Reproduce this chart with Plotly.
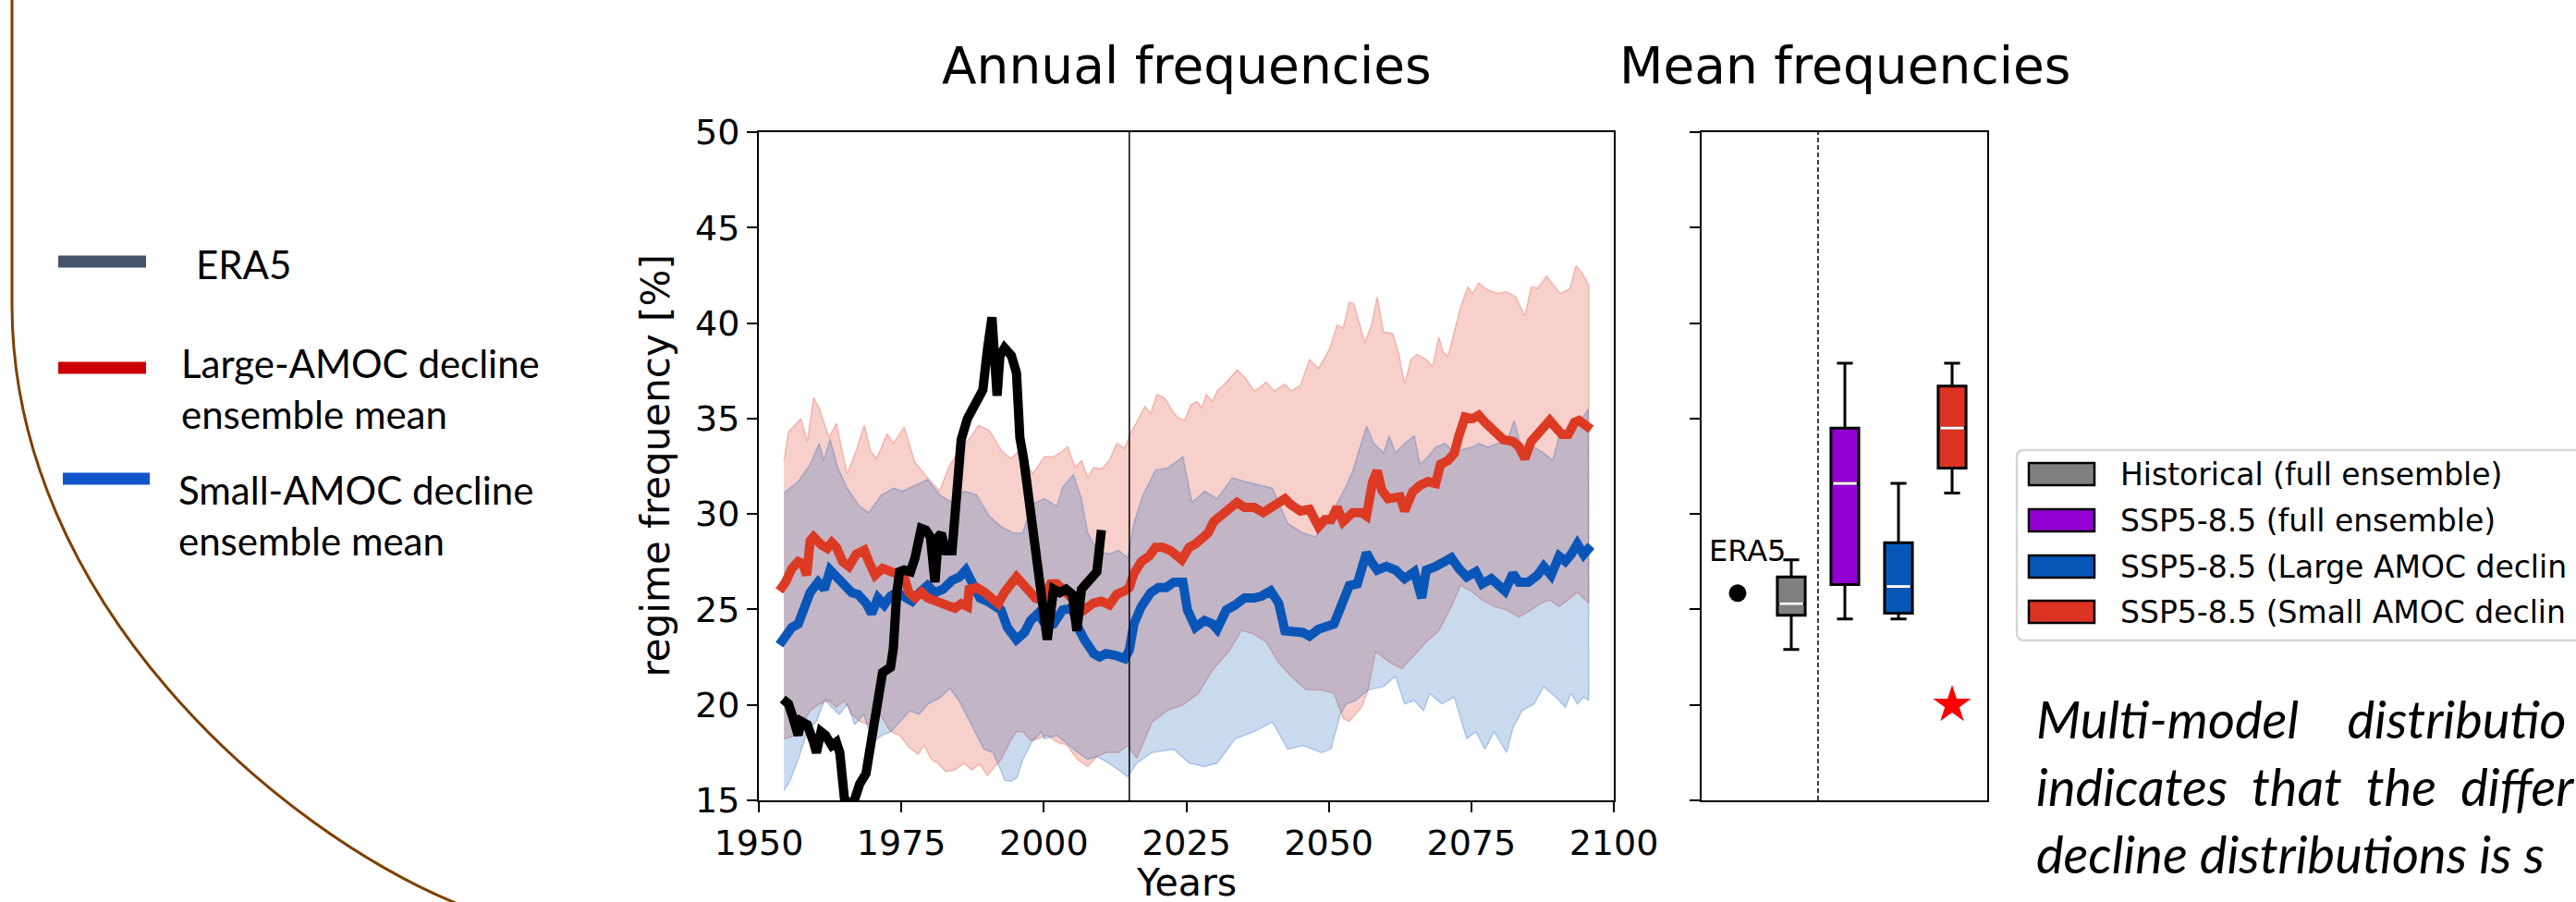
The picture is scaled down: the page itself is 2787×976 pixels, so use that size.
import plotly.graph_objects as go

W, H = 2787, 976

# ---------------- DATA ----------------
split_year = 2015

red_mean_years = [1953.6, 1954.7, 1955.8, 1956.9, 1957.7, 1958.4, 1959.0, 1959.6, 1960.9, 1962.0, 1962.8, 1963.6,
                  1964.7, 1965.8, 1967.1, 1968.5, 1969.3, 1970.4, 1971.7, 1972.8, 1973.9, 1975.2, 1976.3, 1977.4,
                  1978.5, 1979.6, 1980.6, 1981.7, 1983.1, 1984.4, 1985.5, 1986.6, 1986.9, 1988.2, 1989.6, 1990.9,
                  1992.0, 1993.1, 1994.2, 1995.2, 1996.3, 1997.4, 1998.5, 1999.6, 2001.2, 2002.3, 2003.9, 2005.5,
                  2007.1, 2008.7, 2010.1, 2011.5, 2012.8, 2014.2, 2015.0, 2015.8, 2017.1, 2018.5, 2019.6, 2020.9,
                  2022.3, 2024.2, 2025.5, 2026.6, 2027.7, 2028.8, 2029.8, 2031.2, 2032.5, 2033.9, 2035.2, 2036.9,
                  2038.5, 2040.1, 2042.3, 2043.3, 2045.0, 2046.6, 2048.2, 2049.3, 2050.4, 2051.45, 2052.5, 2054.2,
                  2055.8, 2056.6, 2057.7, 2058.5, 2059.3, 2060.4, 2061.7, 2062.5, 2063.3, 2064.7, 2066.0, 2067.4,
                  2068.75, 2069.6, 2070.9, 2072.0, 2072.8, 2073.9, 2075.2, 2076.3, 2077.4, 2079.0, 2080.6, 2082.3,
                  2083.35, 2084.4, 2085.5, 2086.6, 2087.7, 2088.75, 2089.8, 2090.9, 2092.0, 2093.1, 2093.9, 2095.0,
                  2096.0]
red_mean_vals = [25.97, 26.43, 27.15, 27.5, 27.4, 26.8, 28.6, 28.8, 28.4, 28.2, 28.5, 28.25,
                 27.5, 27.25, 27.9, 28.1, 27.5, 26.8, 27.15, 27.06, 26.9, 26.97, 25.9, 25.6,
                 25.9, 25.6, 25.5, 25.4, 25.3, 25.06, 25.3, 25.15, 26.06, 26.15, 25.9, 25.6,
                 25.3, 25.9, 26.43, 26.7, 26.34, 25.9, 25.6, 25.5, 26.34, 26.34, 25.9, 25.33,
                 24.97, 25.33, 25.43, 25.24, 25.79, 25.97, 26.15, 26.88, 27.5, 27.8, 28.25, 28.25,
                 28.07, 27.6, 28.25, 28.43, 28.8, 29.0, 29.6, 29.9, 30.25, 30.6, 30.35, 30.35,
                 30.07, 30.35, 30.8, 30.5, 30.16, 30.25, 29.34, 29.7, 29.7, 30.35, 29.6, 30.07,
                 30.07, 29.9, 31.7, 32.26, 31.25, 30.8, 30.8, 30.9, 30.16, 31.16, 31.5, 31.7,
                 31.6, 32.6, 32.8, 33.17, 34.08, 35.08, 34.99, 35.17, 34.8, 34.26, 33.9, 33.8,
                 33.53, 32.9, 33.8, 34.17, 34.6, 34.9, 34.53, 34.17, 34.17, 34.8, 34.9, 34.6,
                 34.44]

blue_mean_years = [1953.6, 1954.7, 1955.8, 1956.9, 1958.0, 1959.0, 1960.4, 1961.5, 1962.5, 1963.6, 1965.0, 1966.3,
                   1967.4, 1968.8, 1969.8, 1970.9, 1972.0, 1973.1, 1974.2, 1975.5, 1976.9, 1978.2, 1979.6, 1980.9,
                   1982.3, 1983.9, 1985.2, 1986.3, 1987.4, 1988.8, 1990.1, 1991.5, 1992.5, 1993.6, 1995.2, 1996.6,
                   1997.7, 1999.0, 2000.4, 2001.7, 2003.3, 2005.0, 2006.0, 2007.1, 2008.75, 2009.8, 2010.9, 2012.5,
                   2014.2, 2015.0, 2015.8, 2017.1, 2018.75, 2020.1, 2021.5, 2022.8, 2024.4, 2025.2, 2026.6, 2028.2,
                   2029.6, 2030.4, 2032.0, 2033.6, 2035.2, 2036.9, 2038.2, 2039.8, 2041.2, 2042.3, 2043.9, 2045.5,
                   2046.6, 2048.2, 2050.9, 2052.3, 2053.6, 2055.0, 2056.6, 2057.4, 2058.5, 2060.1, 2061.7, 2063.3,
                   2065.0, 2066.3, 2067.1, 2068.75, 2070.1, 2071.5, 2072.8, 2074.2, 2075.8, 2076.9, 2078.5, 2079.8,
                   2080.9, 2082.3, 2083.35, 2085.0, 2086.6, 2087.7, 2089.0, 2090.4, 2091.5, 2092.5, 2093.6, 2094.7,
                   2096.0]
blue_mean_vals = [23.15, 23.6, 24.06, 24.24, 24.97, 25.88, 26.43, 26.06, 27.06, 26.7, 26.25, 25.88,
                  25.79, 25.33, 24.79, 25.6, 25.24, 25.7, 25.88, 25.6, 25.43, 25.88, 26.25, 25.88,
                  26.06, 26.52, 26.7, 27.06, 26.34, 25.6, 25.43, 25.15, 24.97, 24.06, 23.42, 23.79,
                  24.42, 24.79, 24.15, 24.24, 24.97, 25.06, 24.06, 23.42, 22.69, 22.51, 22.69, 22.6,
                  22.42, 22.87, 24.24, 25.15, 25.88, 26.15, 26.15, 26.43, 26.43, 24.97, 24.06, 24.42,
                  24.24, 23.97, 24.97, 25.24, 25.6, 25.6, 25.7, 25.97, 25.33, 23.88, 23.79, 23.79,
                  23.6, 23.97, 24.24, 25.33, 26.25, 26.34, 27.97, 27.52, 27.06, 27.25, 27.06, 26.61,
                  26.97, 25.6, 27.06, 27.25, 27.52, 27.7, 27.15, 26.7, 26.97, 26.34, 26.61, 26.34,
                  25.97, 26.88, 26.43, 26.43, 26.79, 27.25, 26.79, 27.79, 27.52, 27.88, 28.43, 27.88,
                  28.34]

era5_years = [1954.2, 1955.2, 1956.0, 1956.9, 1957.4, 1958.5, 1959.6, 1960.1, 1960.9, 1961.7, 1962.8, 1963.6,
              1964.2, 1965.0, 1965.8, 1966.6, 1967.7, 1968.8, 1969.8, 1970.65, 1971.7, 1973.1, 1973.6, 1974.2,
              1974.7, 1975.5, 1976.6, 1977.4, 1978.5, 1979.3, 1980.1, 1980.9, 1981.5, 1982.0, 1982.8, 1983.9,
              1984.7, 1985.5, 1986.6, 1988.0, 1989.3, 1990.1, 1990.9, 1991.8, 1992.3, 1993.1, 1994.3, 1995.2,
              1995.8, 1996.5, 1997.4, 1998.2, 1999.0, 1999.8, 2000.6, 2001.7, 2002.8, 2003.9, 2005.0, 2005.8,
              2006.6, 2007.7, 2008.75, 2009.3, 2010.1]
era5_vals = [20.3, 20.05, 19.32, 18.41, 19.14, 18.96, 18.05, 17.5, 18.6, 18.41, 17.87, 18.05,
             17.5, 15.13, 14.77, 14.86, 15.86, 16.4, 18.23, 19.69, 21.69, 21.97, 22.97, 25.88,
             26.97, 27.06, 26.97, 27.7, 29.25, 29.16, 28.8, 26.43, 28.8, 28.98, 28.07, 28.07,
             30.62, 33.9, 35.0, 35.7, 36.5, 38.6, 40.3, 36.2, 38.3, 38.7, 38.3, 37.4,
             34.0, 32.8, 30.62, 29.16, 26.97, 24.79, 23.42, 26.06, 25.88, 26.06, 25.79, 23.88,
             26.06, 26.43, 26.79, 26.97, 29.16]

red_upper_years = [1954.4, 1955.2, 1957.4, 1958.5, 1959.6, 1960.65, 1962.3, 1963.6, 1965.5, 1967.1, 1968.5, 1969.6,
                   1970.65, 1972.5, 1973.6, 1975.5, 1977.4, 1979.6, 1981.7, 1983.4, 1985.0, 1987.1, 1988.5, 1990.4,
                   1992.5, 1994.2, 1995.8, 1998.0, 2000.1, 2001.7, 2003.1, 2004.2, 2005.5, 2006.6, 2007.7, 2008.75,
                   2010.1, 2011.5, 2012.8, 2014.2, 2015.2, 2016.3, 2017.7, 2018.75, 2019.8, 2021.2, 2022.3, 2023.35,
                   2024.7, 2025.8, 2026.9, 2027.7, 2028.5, 2029.6, 2030.4, 2032.0, 2033.9, 2035.2, 2036.9, 2037.9,
                   2039.0, 2040.4, 2042.3, 2043.35, 2045.0, 2046.6, 2048.2, 2050.1, 2051.45, 2052.5, 2053.6, 2054.4,
                   2056.3, 2057.4, 2058.5, 2059.6, 2061.2, 2062.25, 2063.3, 2064.4, 2065.5, 2067.1, 2068.2, 2069.3,
                   2070.1, 2070.9, 2072.0, 2073.1, 2074.4, 2075.2, 2076.3, 2077.9, 2079.6, 2081.2, 2082.8, 2084.4,
                   2085.5, 2086.6, 2088.2, 2089.6, 2090.6, 2092.3, 2093.35, 2094.4, 2095.6]
red_upper_vals = [32.8, 34.3, 35.0, 33.8, 36.1, 35.5, 34.0, 34.75, 32.1, 33.35, 34.65, 33.3,
                  32.9, 34.2, 33.7, 34.55, 32.7, 31.9, 31.2, 32.5, 33.3, 34.0, 34.65, 34.4,
                  33.35, 32.9, 33.35, 32.1, 33.0, 33.0, 33.26, 33.53, 32.44, 32.8, 31.9, 32.44,
                  32.35, 32.8, 33.7, 33.44, 34.26, 34.81, 35.63, 35.26, 36.26, 36.08, 35.54, 35.08,
                  34.9, 35.72, 35.9, 35.54, 36.26, 35.9, 36.45, 36.9, 37.54, 37.18, 36.45, 36.63,
                  36.9, 36.45, 36.81, 36.45, 36.72, 38.09, 37.63, 38.63, 39.91, 39.73, 41.1, 41.0,
                  39.0, 39.82, 41.37, 39.54, 39.45, 38.45, 36.81, 38.09, 38.36, 38.09, 37.72, 39.27,
                  38.45, 38.27, 39.54, 40.82, 41.91, 41.55, 42.1, 41.73, 41.55, 41.64, 41.37, 40.36,
                  41.91, 41.82, 42.46, 41.91, 41.55, 41.82, 43.0, 42.64, 42.0]

red_lower_years = [1954.4, 1955.8, 1957.4, 1959.0, 1960.65, 1962.3, 1963.6, 1965.0, 1966.3, 1967.7, 1969.3, 1970.9,
                   1972.0, 1973.1, 1974.7, 1976.3, 1977.95, 1979.0, 1980.1, 1981.5, 1982.8, 1984.4, 1986.0, 1987.4,
                   1988.75, 1990.1, 1991.2, 1992.5, 1994.2, 1995.2, 1996.3, 1997.7, 1999.0, 2000.6, 2002.3, 2004.0,
                   2005.9, 2007.7, 2009.3, 2011.0, 2013.1, 2014.7, 2016.3, 2019.0, 2021.7, 2024.4, 2027.1, 2029.8,
                   2032.5, 2034.7, 2036.9, 2039.0, 2041.2, 2043.35, 2046.0, 2048.75, 2050.9, 2052.5, 2053.6, 2055.8,
                   2056.9, 2058.2, 2060.6, 2062.8, 2065.0, 2067.1, 2069.3, 2071.5, 2073.1, 2074.7, 2076.9, 2079.0,
                   2081.2, 2083.35, 2085.5, 2087.1, 2088.75, 2090.4, 2092.0, 2093.6, 2095.6]
red_lower_vals = [18.23, 18.32, 18.87, 19.69, 20.05, 20.23, 19.87, 20.23, 19.5, 19.14, 18.96, 19.69,
                  19.14, 18.6, 18.41, 17.8, 17.4, 17.9, 17.2, 16.9, 16.5, 16.6, 16.95, 16.59,
                  16.9, 16.3, 16.7, 17.14, 18.14, 18.6, 18.6, 18.14, 18.23, 18.41, 18.05, 17.9,
                  17.14, 16.77, 17.3, 17.5, 17.5, 17.87, 17.2, 19.1, 19.7, 20.0, 20.6, 21.9,
                  22.8, 23.9, 23.7, 23.3, 22.2, 21.5, 20.8, 20.78, 20.6, 19.3, 19.14, 19.9,
                  20.78, 22.8, 22.24, 21.9, 22.6, 23.3, 23.88, 25.15, 26.25, 26.0, 25.5, 25.15,
                  24.97, 24.6, 24.97, 25.3, 25.5, 25.15, 25.5, 25.9, 25.33]

blue_upper_years = [1954.4, 1956.9, 1959.0, 1960.6, 1961.4, 1962.5, 1963.9, 1965.5, 1967.7, 1969.3, 1971.5, 1973.6,
                    1975.2, 1977.4, 1979.6, 1981.7, 1983.9, 1986.0, 1988.2, 1990.4, 1992.5, 1994.7, 1996.3, 1997.9,
                    2000.1, 2002.3, 2003.3, 2005.2, 2006.6, 2007.7, 2009.5, 2011.5, 2013.1, 2014.7, 2015.8, 2017.4,
                    2019.6, 2021.7, 2024.4, 2026.0, 2028.2, 2030.4, 2033.1, 2035.2, 2037.9, 2040.1, 2042.8, 2045.5,
                    2047.7, 2050.9, 2053.1, 2054.2, 2056.6, 2057.9, 2059.6, 2060.6, 2061.7, 2063.3, 2065.0, 2066.0,
                    2067.4, 2068.75, 2070.4, 2072.0, 2073.6, 2075.2, 2076.3, 2077.9, 2079.6, 2081.2, 2082.5, 2083.9,
                    2086.0, 2087.7, 2089.3, 2090.4, 2092.0, 2093.6, 2095.5]
blue_upper_vals = [31.1, 31.7, 32.6, 33.7, 32.8, 33.9, 32.4, 31.35, 30.4, 30.07, 31.0, 31.35,
                   31.2, 31.5, 31.8, 31.0, 30.6, 31.2, 31.0, 29.9, 29.34, 29.0, 29.0, 30.5,
                   30.8, 30.4, 31.4, 32.07, 30.8, 29.0, 28.07, 27.9, 28.1, 27.7, 29.5, 31.0,
                   32.3, 32.4, 33.0, 30.6, 31.2, 30.8, 31.9, 31.7, 31.5, 31.35, 29.5, 29.0,
                   28.8, 30.25, 31.5, 32.26, 34.6, 33.7, 33.2, 34.08, 33.2, 33.7, 34.08, 32.6,
                   33.0, 33.5, 33.7, 33.2, 33.4, 33.5, 33.7, 33.5, 33.7, 33.7, 34.9, 33.35,
                   33.5, 33.2, 32.8, 34.08, 34.26, 34.6, 35.5]

blue_lower_years = [1954.4, 1955.5, 1956.9, 1958.5, 1960.1, 1961.6, 1962.8, 1964.1, 1965.6, 1966.8, 1968.4, 1970.0,
                    1971.6, 1973.2, 1974.9, 1976.5, 1978.1, 1979.7, 1981.9, 1983.5, 1985.1, 1987.3, 1989.5, 1991.1,
                    1992.2, 1993.2, 1994.3, 1995.3, 1996.3, 1997.9, 1999.6, 2000.1, 2002.3, 2004.4, 2006.0, 2007.7,
                    2009.3, 2011.4, 2013.1, 2014.7, 2016.3, 2019.0, 2022.8, 2025.5, 2028.2, 2030.4, 2033.6, 2036.9,
                    2040.1, 2042.8, 2045.5, 2048.75, 2050.4, 2052.0, 2053.1, 2054.7, 2056.9, 2059.6, 2061.7, 2063.3,
                    2065.0, 2066.6, 2067.7, 2069.8, 2072.0, 2074.2, 2075.8, 2077.4, 2079.0, 2081.2, 2082.3, 2083.9,
                    2086.0, 2087.7, 2089.8, 2091.5, 2092.5, 2093.6, 2094.7, 2095.6]
blue_lower_vals = [15.5, 16.04, 17.14, 18.6, 19.14, 20.3, 19.87, 19.5, 20.05, 18.96, 19.5, 18.05,
                   18.41, 18.6, 19.14, 19.69, 19.5, 20.05, 20.4, 20.87, 20.23, 18.96, 17.68, 17.5,
                   16.77, 16.04, 16.0, 16.2, 17.14, 18.05, 18.6, 18.23, 18.4, 17.87, 17.5, 17.14,
                   17.3, 16.95, 16.6, 16.23, 16.95, 17.5, 17.68, 16.95, 16.77, 16.95, 18.23, 18.6,
                   19.1, 17.68, 17.87, 17.5, 17.7, 19.5, 20.05, 20.23, 20.78, 20.96, 21.5, 20.05,
                   20.23, 19.69, 20.6, 20.05, 20.41, 18.23, 18.6, 17.68, 18.6, 17.5, 18.78, 19.69,
                   20.05, 20.96, 20.41, 19.87, 20.6, 20.05, 20.41, 20.23]

# box panel (mean frequencies)
box_names = ["Historical (full ensemble)", "SSP5-8.5 (full ensemble)",
             "SSP5-8.5 (Large AMOC decline)", "SSP5-8.5 (Small AMOC decline)"]
# legend labels as far as they are visible before the right edge of the picture
legend_labels = ["Historical (full ensemble)", "SSP5-8.5 (full ensemble)",
                 "SSP5-8.5 (Large AMOC declin", "SSP5-8.5 (Small AMOC declin"]
box_positions = [1, 2, 3, 4]
box_colors = ["#808080", "#9400d3", "#0656b8", "#dd3322"]
box_lowerfence = [22.9, 24.5, 24.5, 31.1]
box_q1 = [24.7, 26.3, 24.8, 32.4]
box_median = [25.3, 31.6, 26.2, 34.5]
box_q3 = [26.7, 34.5, 28.5, 36.7]
box_upperfence = [27.6, 37.9, 31.6, 37.9]
era5_position = 0
era5_mean = 25.85
star_position = 4
star_value = 20.0

x_ticks = [1950, 1975, 2000, 2025, 2050, 2075, 2100]
y_ticks = [15, 20, 25, 30, 35, 40, 45, 50]

left_legend_labels = ["ERA5", "Large-AMOC decline<br>ensemble mean", "Small-AMOC decline<br>ensemble mean"]
left_legend_colors = ["#44546a", "#cc0000", "#1155cc"]
note_lines = ["Multi-model\u00a0\u00a0\u00a0\u00a0distributio",
              "indicates\u00a0\u00a0that\u00a0\u00a0the\u00a0\u00a0differ",
              "decline distributions is s"]

# ---------------- HELPERS ----------------
def px(x):
    return x / W


def py(y):
    return 1 - y / H


RED_LINE = "#dd3a24"
BLUE_LINE = "#0a56b8"
DV = "DejaVu Sans"

fig = go.Figure()

# bands (red first, blue on top)
fig.add_trace(go.Scatter(
    x=red_upper_years + red_lower_years[::-1], y=red_upper_vals + red_lower_vals[::-1],
    fill="toself", fillcolor="rgba(221,58,36,0.24)", line=dict(color="rgba(221,58,36,0.28)", width=1.5),
    mode="lines", hoverinfo="skip", showlegend=False, xaxis="x", yaxis="y"))
fig.add_trace(go.Scatter(
    x=blue_upper_years + blue_lower_years[::-1], y=blue_upper_vals + blue_lower_vals[::-1],
    fill="toself", fillcolor="rgba(10,86,184,0.22)", line=dict(color="rgba(10,86,184,0.26)", width=1.5),
    mode="lines", hoverinfo="skip", showlegend=False, xaxis="x", yaxis="y"))

fig.add_trace(go.Scatter(x=blue_mean_years, y=blue_mean_vals, mode="lines",
                         line=dict(color=BLUE_LINE, width=10), showlegend=False))
fig.add_trace(go.Scatter(x=red_mean_years, y=red_mean_vals, mode="lines",
                         line=dict(color=RED_LINE, width=10), showlegend=False))
fig.add_trace(go.Scatter(x=era5_years, y=era5_vals, mode="lines",
                         line=dict(color="black", width=10), showlegend=False))

# box plots
box_w = 0.52
for i in range(len(box_names)):
    fig.add_trace(go.Box(
        x=[box_positions[i]], q1=[box_q1[i]], median=[box_median[i]], q3=[box_q3[i]],
        lowerfence=[box_lowerfence[i]], upperfence=[box_upperfence[i]],
        width=box_w, whiskerwidth=0.57, fillcolor=box_colors[i],
        line=dict(color="black", width=3), boxpoints=False, name=box_names[i],
        showlegend=False, xaxis="x2", yaxis="y2", hoverinfo="skip"))
    fig.add_trace(go.Scatter(
        x=[box_positions[i] - box_w / 2 + 0.04, box_positions[i] + box_w / 2 - 0.04],
        y=[box_median[i], box_median[i]], mode="lines",
        line=dict(color="white", width=3), showlegend=False, xaxis="x2", yaxis="y2", hoverinfo="skip"))

fig.add_trace(go.Scatter(x=[era5_position], y=[era5_mean], mode="markers",
                         marker=dict(color="black", size=19), showlegend=False, xaxis="x2", yaxis="y2"))
fig.add_trace(go.Scatter(x=[star_position], y=[star_value], mode="markers",
                         marker=dict(color="red", size=31, symbol="star", line=dict(width=0)),
                         showlegend=False, xaxis="x2", yaxis="y2"))

axis_common = dict(showgrid=False, zeroline=False, linecolor="black", linewidth=2, mirror=True,
                   ticks="outside", ticklen=11, tickwidth=2, tickcolor="black", automargin=False,
                   tickfont=dict(family=DV, size=38, color="black"))

fig.update_layout(
    template="none",
    width=W, height=H, autosize=False,
    margin=dict(l=0, r=0, t=0, b=0, pad=0, autoexpand=False),
    showlegend=False,
    paper_bgcolor="white", plot_bgcolor="white",
    xaxis=dict(domain=[px(821), px(1746)], range=[1950, 2100], tickvals=x_ticks, anchor="y", **axis_common),
    yaxis=dict(domain=[py(866), py(143)], range=[15, 50], tickvals=y_ticks, anchor="x", **axis_common),
    xaxis2=dict(domain=[px(1841), px(2150)], range=[-0.672, 4.655], showgrid=False, zeroline=False,
                linecolor="black", linewidth=2, mirror=True, showticklabels=False, ticks="", anchor="y2",
                automargin=False),
    yaxis2=dict(domain=[py(866), py(143)], range=[15, 50], tickvals=y_ticks, showticklabels=False,
                anchor="x2", **{k: v for k, v in axis_common.items() if k != "tickfont"}),
)

shapes = []
# 2015 split line
shapes.append(dict(type="line", xref="x", yref="y domain", x0=split_year, x1=split_year, y0=0, y1=1,
                   line=dict(color="black", width=1.5)))
# dashed divider in box panel
div_x = (box_positions[0] + box_positions[1]) / 2
shapes.append(dict(type="line", xref="x2", yref="y2 domain", x0=div_x, x1=div_x, y0=0, y1=1,
                   line=dict(color="black", width=1.5, dash="5px,3px")))

# brown decorative curve
path = "M {:.5f},{:.5f} L {:.5f},{:.5f} C {:.5f},{:.5f} {:.5f},{:.5f} {:.5f},{:.5f}".format(
    px(13), py(-5), px(13), py(330), px(13), py(650), px(300), py(900), px(500), py(980))
shapes.append(dict(type="path", xref="paper", yref="paper", path=path,
                   line=dict(color="#7f3f00", width=3)))

# left legend lines
left_line_y = [283, 398, 518]
left_line_x = [(63, 158), (63, 158), (68, 162)]
for (x0, x1), yy, c in zip(left_line_x, left_line_y, left_legend_colors):
    shapes.append(dict(type="line", xref="paper", yref="paper", x0=px(x0), x1=px(x1), y0=py(yy), y1=py(yy),
                       line=dict(color=c, width=13)))

# box legend frame (rounded on left, extends beyond right edge)
lx0, ly0, ly1, r = 2182, 487, 693, 8
frame = "M {a},{b} L {c},{b} L {c},{d} L {a2},{d} Q {e},{d} {e},{d2} L {e},{b2} Q {e},{b} {a2},{b}".format(
    a=px(lx0 + r), b=py(ly0), c=px(2800), d=py(ly1), a2=px(lx0 + r), e=px(lx0), d2=py(ly1 - r), b2=py(ly0 + r))
shapes.append(dict(type="path", xref="paper", yref="paper", path=frame,
                   line=dict(color="#d6d6d6", width=2.5), fillcolor="rgba(255,255,255,0.8)"))
legend_rows = [513, 563, 613, 662]
for yy, c in zip(legend_rows, box_colors):
    shapes.append(dict(type="rect", xref="paper", yref="paper", x0=px(2195), x1=px(2266),
                       y0=py(yy + 12), y1=py(yy - 12), fillcolor=c, line=dict(color="black", width=2.5)))

annotations = []
for yy, name in zip(legend_rows, legend_labels):
    annotations.append(dict(x=px(2292), y=py(yy), xref="paper", yref="paper", text=name, showarrow=False,
                            xanchor="left", yanchor="middle", font=dict(family=DV, size=33, color="black")))

# titles and axis labels
annotations.append(dict(x=px(1283.5), y=py(71), xref="paper", yref="paper", text="Annual frequencies",
                        showarrow=False, xanchor="center", yanchor="middle",
                        font=dict(family=DV, size=55, color="black")))
annotations.append(dict(x=px(1995.5), y=py(71), xref="paper", yref="paper", text="Mean frequencies",
                        showarrow=False, xanchor="center", yanchor="middle",
                        font=dict(family=DV, size=55, color="black")))
annotations.append(dict(x=px(709), y=py(504.5), xref="paper", yref="paper", text="regime frequency [%]",
                        showarrow=False, textangle=-90, xanchor="center", yanchor="middle",
                        font=dict(family=DV, size=42, color="black")))
annotations.append(dict(x=px(1283.5), y=py(955), xref="paper", yref="paper", text="Years",
                        showarrow=False, xanchor="center", yanchor="middle",
                        font=dict(family=DV, size=41, color="black")))
annotations.append(dict(x=era5_position - 0.57, y=era5_mean + 2.2, xref="x2", yref="y2", text="ERA5",
                        showarrow=False, xanchor="left", yanchor="middle",
                        font=dict(family=DV, size=32, color="black")))

# left legend texts
left_text_pos = [(210, 286), (194, 420), (191, 557)]
for (xx, yy), t in zip(left_text_pos, left_legend_labels):
    annotations.append(dict(x=px(xx), y=py(yy), xref="paper", yref="paper", text=t, showarrow=False,
                            xanchor="left", yanchor="middle", align="left",
                            font=dict(family="Lato", size=42, color="black")))

# italic note (one annotation per line to control spacing)
note_y = [777, 850, 923]
for yy, s in zip(note_y, note_lines):
    annotations.append(dict(x=px(2201), y=py(yy), xref="paper", yref="paper",
                            text="<i>" + s + "</i>", showarrow=False,
                            xanchor="left", yanchor="middle", align="left",
                            font=dict(family="Lato", size=56, color="black")))

fig.update_layout(shapes=shapes, annotations=annotations)
fig.write_html("out.html")
